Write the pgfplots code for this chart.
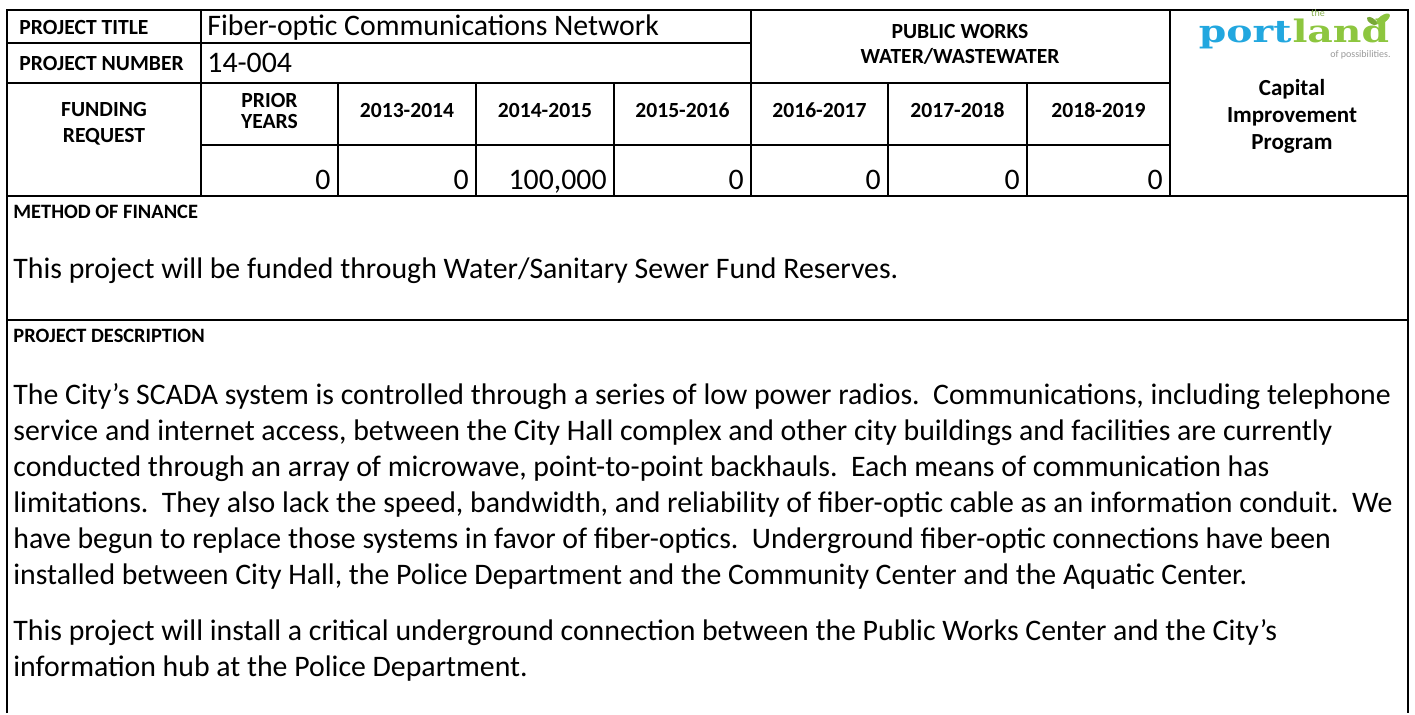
\documentclass[border=0pt]{standalone}
\usepackage{pgfplots}
\pgfplotsset{compat=1.18}
\usepackage{fontspec}
\setmainfont{Carlito}
\newfontfamily\logofont{DejaVu Serif}
\usepackage{xcolor}
\definecolor{pblue}{HTML}{22A7DF}
\definecolor{pgreen}{HTML}{8DC63F}

% px grid: 1 px = 0.5pt, y runs downward
\newcommand{\hfs}{\fontsize{10.8}{12}\selectfont\bfseries}
\newcommand{\sfs}{\fontsize{10.2}{12}\selectfont\bfseries}
\newcommand{\bodyfs}{\fontsize{14.9}{18}\selectfont}

\begin{document}
\begin{tikzpicture}
\begin{axis}[
  scale only axis,
  width=707.5pt, height=356.5pt,
  xmin=0, xmax=1415, ymin=0, ymax=713,
  y dir=reverse,
  hide axis,
  clip=false,
  point meta=explicit symbolic,
  nodes near coords,
  nodes near coords style={anchor=base east, font=\bodyfs, inner sep=0pt},
]
\path (axis cs:0,0) rectangle (axis cs:1415,713);

% frame and rules
\draw[line width=1.2pt] (axis cs:7,713) -- (axis cs:7,10) -- (axis cs:1408,10) -- (axis cs:1408,713);
\draw[line width=0.9pt] (axis cs:7,43) -- (axis cs:751,43);
\draw[line width=0.9pt] (axis cs:7,83) -- (axis cs:1170,83);
\draw[line width=0.9pt] (axis cs:201,145) -- (axis cs:1170,145);
\draw[line width=1.2pt] (axis cs:7,196) -- (axis cs:1408,196);
\draw[line width=1.2pt] (axis cs:7,320) -- (axis cs:1408,320);
\draw[line width=0.9pt] (axis cs:201,10) -- (axis cs:201,196);
\draw[line width=0.9pt] (axis cs:751,10) -- (axis cs:751,196);
\draw[line width=0.9pt] (axis cs:1170,10) -- (axis cs:1170,196);
\draw[line width=0.9pt] (axis cs:338,83) -- (axis cs:338,196);
\draw[line width=0.9pt] (axis cs:476,83) -- (axis cs:476,196);
\draw[line width=0.9pt] (axis cs:614,83) -- (axis cs:614,196);
\draw[line width=0.9pt] (axis cs:888,83) -- (axis cs:888,196);
\draw[line width=0.9pt] (axis cs:1027,83) -- (axis cs:1027,196);

% header text
\node[anchor=base west,font=\hfs,inner sep=0pt] at (axis cs:19,34) {PROJECT TITLE};
\node[anchor=base west,font=\hfs,inner sep=0pt] at (axis cs:19,70) {PROJECT NUMBER};
\node[anchor=base west,font=\bodyfs,inner sep=0pt] at (axis cs:207,35) {Fiber-optic Communications Network};
\node[anchor=base west,font=\bodyfs,inner sep=0pt] at (axis cs:207,72) {14-004};
\node[anchor=base,font=\hfs,inner sep=0pt] at (axis cs:960,38) {PUBLIC WORKS};
\node[anchor=base,font=\hfs,inner sep=0pt] at (axis cs:960,63) {WATER/WASTEWATER};
\node[anchor=base,font=\hfs,inner sep=0pt] at (axis cs:104,116) {FUNDING};
\node[anchor=base,font=\hfs,inner sep=0pt] at (axis cs:104,142) {REQUEST};
\node[anchor=base,font=\hfs,inner sep=0pt] at (axis cs:269.5,107) {PRIOR};
\node[anchor=base,font=\hfs,inner sep=0pt] at (axis cs:269.5,128) {YEARS};
\node[anchor=base,font=\hfs,inner sep=0pt] at (axis cs:407,117) {2013-2014};
\node[anchor=base,font=\hfs,inner sep=0pt] at (axis cs:545,117) {2014-2015};
\node[anchor=base,font=\hfs,inner sep=0pt] at (axis cs:682.5,117) {2015-2016};
\node[anchor=base,font=\hfs,inner sep=0pt] at (axis cs:819.5,117) {2016-2017};
\node[anchor=base,font=\hfs,inner sep=0pt] at (axis cs:957.5,117) {2017-2018};
\node[anchor=base,font=\hfs,inner sep=0pt] at (axis cs:1098.5,117) {2018-2019};

% logo
\node[font=\logofont\fontsize{15.5}{15.5}\bfseries\selectfont, text=pblue, anchor=base east, inner sep=0pt, xscale=1.27] at (axis cs:1292,42) {port};
\node[font=\logofont\fontsize{15.5}{15.5}\bfseries\selectfont, text=pgreen, anchor=base west, inner sep=0pt, xscale=1.27] at (axis cs:1292,42) {land};
\node[font=\fontsize{5}{5}\selectfont, text=pgreen!70!gray, anchor=base, inner sep=0pt] at (axis cs:1318,16) {the};
\node[font=\fontsize{5}{5}\selectfont, text=gray!80, anchor=base east, inner sep=0pt] at (axis cs:1391,57) {of possibilities.};
\fill[pgreen, rotate around={35:(axis cs:1383,19)}] (axis cs:1383,19) ellipse [x radius=4pt, y radius=1.8pt];
\fill[pgreen!85!black, rotate around={-35:(axis cs:1372,21)}] (axis cs:1372,21) ellipse [x radius=3pt, y radius=1.4pt];

% program name
\node[anchor=base,font=\fontsize{11.5}{14}\bfseries\selectfont,inner sep=0pt] at (axis cs:1292,95) {Capital};
\node[anchor=base,font=\fontsize{11.5}{14}\bfseries\selectfont,inner sep=0pt] at (axis cs:1292,122) {Improvement};
\node[anchor=base,font=\fontsize{11.5}{14}\bfseries\selectfont,inner sep=0pt] at (axis cs:1292,149) {Program};

% funding request values
\addplot[draw=none, mark=none] coordinates {
  (331,189) [0]
  (469,189) [0]
  (607,189) [100,000]
  (744,189) [0]
  (881,189) [0]
  (1020,189) [0]
  (1163,189) [0]
};

% method of finance
\node[anchor=base west,font=\sfs,inner sep=0pt] at (axis cs:13,218) {METHOD OF FINANCE};
\node[anchor=base west,font=\bodyfs,inner sep=0pt] at (axis cs:13,278) {This project will be funded through Water/Sanitary Sewer Fund Reserves.};

% project description
\node[anchor=base west,font=\sfs,inner sep=0pt] at (axis cs:13,342) {PROJECT DESCRIPTION};
\node[anchor=base west,font=\bodyfs,inner sep=0pt] at (axis cs:13,404) {The City’s SCADA system is controlled through a series of low power radios.\ \ Communications, including telephone};
\node[anchor=base west,font=\bodyfs,inner sep=0pt] at (axis cs:13,440) {service and internet access, between the City Hall complex and other city buildings and facilities are currently};
\node[anchor=base west,font=\bodyfs,inner sep=0pt] at (axis cs:13,476) {conducted through an array of microwave, point-to-point backhauls.\ \ Each means of communication has};
\node[anchor=base west,font=\bodyfs,inner sep=0pt] at (axis cs:13,512) {limitations.\ \ They also lack the speed, bandwidth, and reliability of fiber-optic cable as an information conduit.\ \ We};
\node[anchor=base west,font=\bodyfs,inner sep=0pt] at (axis cs:13,548) {have begun to replace those systems in favor of fiber-optics.\ \ Underground fiber-optic connections have been};
\node[anchor=base west,font=\bodyfs,inner sep=0pt] at (axis cs:13,584) {installed between City Hall, the Police Department and the Community Center and the Aquatic Center.};
\node[anchor=base west,font=\bodyfs,inner sep=0pt] at (axis cs:13,640) {This project will install a critical underground connection between the Public Works Center and the City’s};
\node[anchor=base west,font=\bodyfs,inner sep=0pt] at (axis cs:13,676) {information hub at the Police Department.};
\end{axis}
\end{tikzpicture}
\end{document}
